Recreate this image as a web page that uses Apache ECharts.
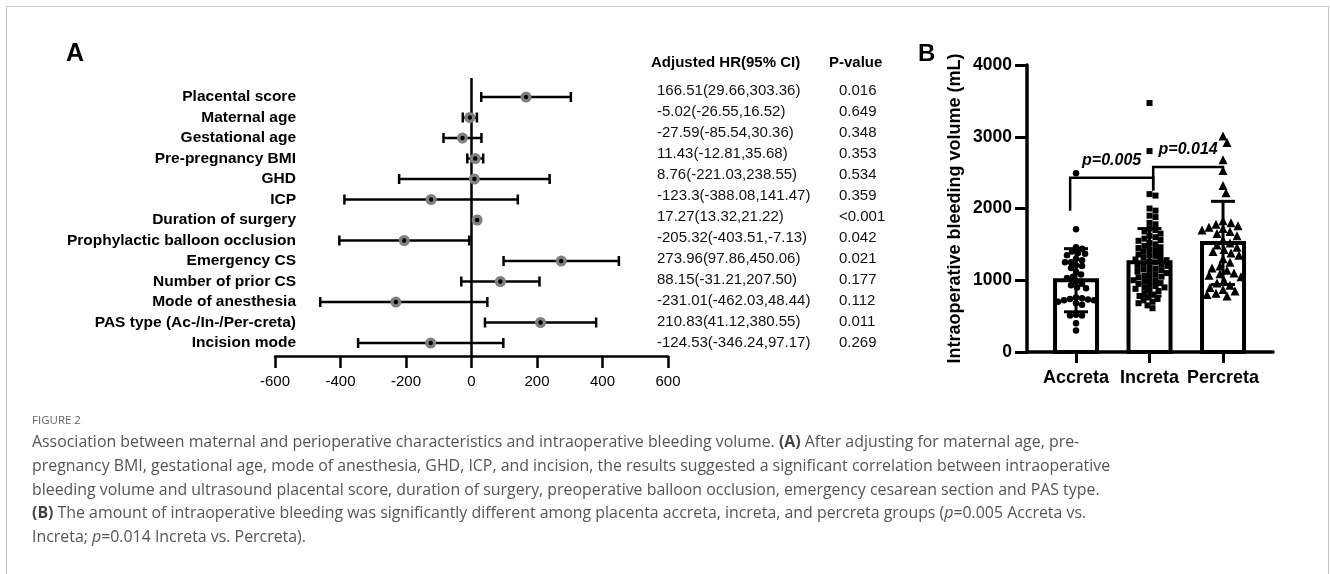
<!DOCTYPE html>
<html>
<head>
<meta charset="utf-8">
<title>Figure 2</title>
<script src="https://cdn.jsdelivr.net/npm/echarts@6/dist/echarts.min.js"></script>
<style>
html, body { margin: 0; padding: 0; background: #fff; }
#main { position: absolute; left: 0; top: 0; width: 1330px; height: 574px; }
#frame { position: absolute; left: 6px; top: 6px; width: 1321px; height: 620px;
         border: 1.5px solid #c6c6c6; pointer-events: none; }
</style>
</head>
<body>
<div id="main"></div>
<div id="frame"></div>
<script type="text/javascript">
// --- A: adjusted estimates ---
var factors = ['Placental score', 'Maternal age', 'Gestational age', 'Pre-pregnancy BMI', 'GHD', 'ICP',
    'Duration of surgery', 'Prophylactic balloon occlusion', 'Emergency CS', 'Number of prior CS',
    'Mode of anesthesia', 'PAS type (Ac-/In-/Per-creta)', 'Incision mode'];
var est    = [166.51, -5.02, -27.59, 11.43, 8.76, -123.3, 17.27, -205.32, 273.96, 88.15, -231.01, 210.83, -124.53];
var ciLow  = [29.66, -26.55, -85.54, -12.81, -221.03, -388.08, 13.32, -403.51, 97.86, -31.21, -462.03, 41.12, -346.24];
var ciHigh = [303.36, 16.52, 30.36, 35.68, 238.55, 141.47, 21.22, -7.13, 450.06, 207.50, 48.44, 380.55, 97.17];
var hrText = ['166.51(29.66,303.36)', '-5.02(-26.55,16.52)', '-27.59(-85.54,30.36)', '11.43(-12.81,35.68)',
    '8.76(-221.03,238.55)', '-123.3(-388.08,141.47)', '17.27(13.32,21.22)', '-205.32(-403.51,-7.13)',
    '273.96(97.86,450.06)', '88.15(-31.21,207.50)', '-231.01(-462.03,48.44)', '210.83(41.12,380.55)',
    '-124.53(-346.24,97.17)'];
var pText = ['0.016', '0.649', '0.348', '0.353', '0.534', '0.359', '<0.001', '0.042', '0.021', '0.177', '0.112', '0.011', '0.269'];

// --- B: bleeding volume by group ---
var groups = ['Accreta', 'Increta', 'Percreta'];
var meanVol = [1000, 1250, 1520];
var sdVol = [440, 470, 580];
var accreta = [2490, 1710, 1460, 1440, 1400, 1380, 1370, 1350, 1300, 1280, 1250, 1250, 1210, 1200, 1170, 1120,
    1080, 1050, 1030, 980, 950, 930, 900, 890, 760, 750, 740, 730, 720, 720, 700, 680, 660, 520, 510, 510, 400, 300];
var increta = [3470, 2800, 2200, 2180, 2000, 1970, 1900, 1880, 1800, 1780, 1720, 1700, 1680, 1650, 1620, 1600,
    1580, 1560, 1550, 1520, 1500, 1480, 1460, 1450, 1430, 1420, 1400, 1380, 1360, 1350, 1340, 1320, 1300, 1290,
    1280, 1260, 1250, 1230, 1220, 1200, 1200, 1180, 1160, 1150, 1140, 1120, 1100, 1100, 1080, 1060, 1050, 1040,
    1020, 1000, 1000, 980, 960, 950, 940, 920, 900, 900, 880, 860, 850, 820, 800, 780, 760, 740, 720, 700, 680, 650, 610];
var percreta = [3010, 2920, 2680, 2530, 2320, 2220, 1830, 1800, 1780, 1760, 1740, 1720, 1700, 1680, 1650, 1620,
    1560, 1520, 1490, 1460, 1430, 1400, 1380, 1350, 1300, 1250, 1200, 1170, 1140, 1100, 1090, 1070, 1050,
    1000, 960, 930, 900, 870, 850, 820, 800, 780];
// [from x, to x, left leg bottom, right leg bottom, top]
var brackets = [[-0.08, 1.05, 1970, 2250, 2430], [1.05, 2.0, 2250, 2480, 2580]];
var bracketText = ['p=0.005', 'p=0.014'];

var FONT = '"Liberation Sans", Arial, sans-serif';
var chart = echarts.init(document.getElementById('main'));

// simple beeswarm: spread points sideways so they do not overlap (pixels -> group units)
var PX_PER_ML = 287 / 4000, PX_PER_GROUP = 73.5;
function swarm(vals, gap) {
    var placed = [];
    return vals.map(function (v) {
        var y = v * PX_PER_ML, x = 0;
        for (var k = 0; k < 300; k++) {
            x = (k % 2 ? 1 : -1) * Math.ceil(k / 2);
            var ok = placed.every(function (p) { return Math.hypot(p[0] - x, p[1] - y) >= gap; });
            if (ok) break;
        }
        placed.push([x, y]);
        return x / PX_PER_GROUP;
    });
}
function swarmData(vals, g, gap) {
    var off = swarm(vals, gap);
    return vals.map(function (v, i) { return [g + off[i], v]; });
}

function renderZero(params, api) {
    var p = api.coord([0, 0]);
    var cs = params.coordSys;
    return { type: 'line', shape: { x1: p[0], y1: cs.y - 19, x2: p[0], y2: cs.y + cs.height + 13 },
             style: { stroke: '#000', lineWidth: 2.5 } };
}

function renderForest(params, api) {
    var i = api.value(0);
    var c = api.coord([api.value(1), i]);
    var l = api.coord([api.value(2), i]);
    var h = api.coord([api.value(3), i]);
    var st = { stroke: '#000', lineWidth: 2.5 };
    return { type: 'group', children: [
        { type: 'line', shape: { x1: l[0], y1: c[1], x2: h[0], y2: c[1] }, style: st },
        { type: 'line', shape: { x1: l[0], y1: c[1] - 5, x2: l[0], y2: c[1] + 5 }, style: st },
        { type: 'line', shape: { x1: h[0], y1: c[1] - 5, x2: h[0], y2: c[1] + 5 }, style: st },
        { type: 'circle', shape: { cx: c[0], cy: c[1], r: 5.5 }, style: { fill: '#808080' } },
        { type: 'circle', shape: { cx: c[0], cy: c[1], r: 2.2 }, style: { fill: '#000' } }
    ] };
}

function renderBar(params, api) {
    var top = api.coord([api.value(0), api.value(1)]);
    var base = api.coord([api.value(0), 0]);
    var w = 42;
    return { type: 'rect', shape: { x: top[0] - w / 2, y: top[1], width: w, height: base[1] - top[1] },
             style: { fill: '#fff', stroke: '#000', lineWidth: 4 } };
}

function renderErr(params, api) {
    var x = api.value(0), m = api.value(1), s = api.value(2);
    var hi = api.coord([x, m + s]);
    var lo = api.coord([x, m - s]);
    var st = { stroke: '#000', lineWidth: 3 };
    return { type: 'group', children: [
        { type: 'line', shape: { x1: hi[0], y1: hi[1], x2: lo[0], y2: lo[1] }, style: st },
        { type: 'line', shape: { x1: hi[0] - 12, y1: hi[1], x2: hi[0] + 12, y2: hi[1] }, style: st },
        { type: 'line', shape: { x1: lo[0] - 12, y1: lo[1], x2: lo[0] + 12, y2: lo[1] }, style: st }
    ] };
}

function renderBracket(params, api) {
    var a = api.coord([api.value(0), api.value(2)]);
    var b = api.coord([api.value(1), api.value(3)]);
    var ta = api.coord([api.value(0), api.value(4)]);
    var tb = api.coord([api.value(1), api.value(4)]);
    return { type: 'group', children: [
        { type: 'polyline', shape: { points: [a, ta, tb, b] }, style: { stroke: '#000', lineWidth: 2.5, fill: null } },
        { type: 'text', style: { text: bracketText[params.dataIndex], x: (ta[0] + tb[0]) / 2, y: ta[1] - 17,
            align: 'center', verticalAlign: 'middle', fill: '#000',
            font: 'italic bold 16px ' + FONT } }
    ] };
}

var caption = 'Association between maternal and perioperative characteristics and intraoperative bleeding volume. {b|(A)} After adjusting for maternal age, pre-\n' +
    'pregnancy BMI, gestational age, mode of anesthesia, GHD, ICP, and incision, the results suggested a significant correlation between intraoperative\n' +
    'bleeding volume and ultrasound placental score, duration of surgery, preoperative balloon occlusion, emergency cesarean section and PAS type.\n' +
    '{b|(B)} The amount of intraoperative bleeding was significantly different among placenta accreta, increta, and percreta groups ({i|p}=0.005 Accreta vs.\n' +
    'Increta; {i|p}=0.014 Increta vs. Percreta).';
var capStyle = { color: '#555', fontSize: 15.9, fontFamily: '"Open Sans", sans-serif', fontWeight: 'normal', lineHeight: 23.7 };

chart.setOption({
    animation: false,
    title: [
        { text: 'A', left: 66, top: 42, padding: 0, textStyle: { fontSize: 25, fontWeight: 'bold', color: '#000', fontFamily: FONT } },
        { text: 'B', left: 918, top: 42, padding: 0, textStyle: { fontSize: 24, fontWeight: 'bold', color: '#000', fontFamily: FONT } },
        { text: 'Adjusted HR(95% CI)', left: 651, top: 55, padding: 0, textStyle: { fontSize: 15, fontWeight: 'bold', color: '#000', fontFamily: FONT } },
        { text: 'P-value', left: 829, top: 55, padding: 0, textStyle: { fontSize: 15, fontWeight: 'bold', color: '#000', fontFamily: FONT } },
        { text: 'FIGURE 2', left: 32, top: 415, padding: 0, textStyle: { fontSize: 11.5, fontWeight: 'normal', color: '#666', fontFamily: '"Open Sans", sans-serif' } },
        { text: caption, left: 32, top: 431, padding: 0,
          textStyle: Object.assign({}, capStyle, { rich: {
              b: Object.assign({}, capStyle, { fontWeight: 'bold', color: '#444' }),
              i: Object.assign({}, capStyle, { fontStyle: 'italic' })
          } }) }
    ],
    grid: [
        { left: 275, top: 97, width: 393, height: 246 },
        { left: 600, top: 91, width: 57, height: 252 },
        { left: 1027, top: 65, width: 246, height: 287 }
    ],
    xAxis: [
        { gridIndex: 0, type: 'value', min: -600, max: 600, interval: 200, offset: 13,
          axisLine: { show: true, onZero: false, lineStyle: { color: '#000', width: 2.5 } },
          axisTick: { show: true, length: 12, lineStyle: { color: '#000', width: 2.5 } },
          axisLabel: { color: '#000', fontSize: 15, fontFamily: FONT, margin: 18 },
          splitLine: { show: false } },
        { gridIndex: 1, type: 'value', show: false },
        { gridIndex: 2, type: 'value', min: -0.667, max: 2.68,
          axisLine: { show: true, onZero: false, lineStyle: { color: '#000', width: 3.5 } },
          axisTick: { show: true, customValues: [0, 1, 2], length: 11, lineStyle: { color: '#000', width: 3 } },
          axisLabel: { customValues: [0, 1, 2], formatter: function (v) { return groups[Math.round(v)]; },
                       color: '#000', fontSize: 18, fontWeight: 'bold', fontFamily: FONT, margin: 17 },
          splitLine: { show: false } }
    ],
    yAxis: [
        { gridIndex: 0, type: 'category', data: factors, inverse: true, boundaryGap: false, offset: -21,
          axisLine: { show: false }, axisTick: { show: false },
          axisLabel: { margin: 0, interval: 0, color: '#000', fontSize: 15.5, fontWeight: 'bold', fontFamily: FONT } },
        { gridIndex: 1, type: 'category', data: hrText, inverse: true, boundaryGap: false, position: 'right',
          axisLine: { show: false }, axisTick: { show: false },
          axisLabel: { margin: 0, interval: 0, color: '#111', fontSize: 15, fontFamily: FONT } },
        { gridIndex: 1, type: 'category', data: pText, inverse: true, boundaryGap: false, position: 'right', offset: 182,
          axisLine: { show: false }, axisTick: { show: false },
          axisLabel: { margin: 0, interval: 0, color: '#111', fontSize: 15, fontFamily: FONT } },
        { gridIndex: 2, type: 'value', min: 0, max: 4000, interval: 1000,
          name: 'Intraoperative bleeding volume (mL)', nameLocation: 'middle', nameGap: 63, nameRotate: 90,
          nameTextStyle: { color: '#000', fontSize: 18, fontWeight: 'bold', fontFamily: FONT },
          axisLine: { show: true, onZero: false, lineStyle: { color: '#000', width: 3.5 } },
          axisTick: { show: true, length: 12, lineStyle: { color: '#000', width: 3 } },
          axisLabel: { formatter: function (v) { return String(v); },
                       color: '#000', fontSize: 17.5, fontWeight: 'bold', fontFamily: FONT, margin: 15 },
          splitLine: { show: false } }
    ],
    series: [
        { type: 'custom', xAxisIndex: 0, yAxisIndex: 0, renderItem: renderZero, data: [[0, 0]], encode: { x: 0, y: 1 }, z: 3 },
        { type: 'custom', xAxisIndex: 0, yAxisIndex: 0, renderItem: renderForest,
          data: factors.map(function (f, i) { return [i, est[i], ciLow[i], ciHigh[i]]; }),
          encode: { y: 0, x: [1, 2, 3] }, z: 4 },
        { type: 'custom', xAxisIndex: 2, yAxisIndex: 3, renderItem: renderBar,
          data: groups.map(function (g, i) { return [i, meanVol[i]]; }), encode: { x: 0, y: 1 }, z: 2 },
        { type: 'scatter', xAxisIndex: 2, yAxisIndex: 3, symbol: 'circle', symbolSize: 6.5,
          itemStyle: { color: '#000', opacity: 1 }, data: swarmData(accreta, 0, 5.5), z: 4 },
        { type: 'scatter', xAxisIndex: 2, yAxisIndex: 3, symbol: 'rect', symbolSize: 6,
          itemStyle: { color: '#000', opacity: 1 }, data: swarmData(increta, 1, 5.5), z: 4 },
        { type: 'scatter', xAxisIndex: 2, yAxisIndex: 3, symbol: 'triangle', symbolSize: 9,
          itemStyle: { color: '#000', opacity: 1 }, data: swarmData(percreta, 2, 7.5), z: 4 },
        { type: 'custom', xAxisIndex: 2, yAxisIndex: 3, renderItem: renderErr,
          data: groups.map(function (g, i) { return [i, meanVol[i], sdVol[i]]; }), encode: { x: 0, y: 1 }, z: 5 },
        { type: 'custom', xAxisIndex: 2, yAxisIndex: 3, renderItem: renderBracket,
          data: brackets, encode: { x: [0, 1], y: [2, 3, 4] }, z: 5 }
    ]
});
</script>
</body>
</html>
